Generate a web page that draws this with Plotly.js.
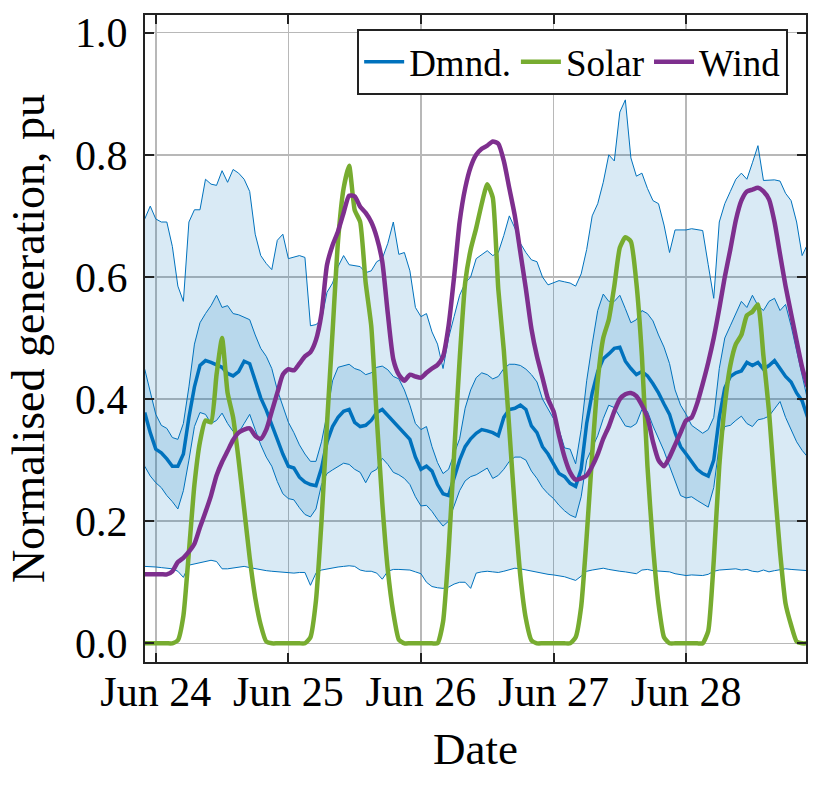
<!DOCTYPE html>
<html>
<head>
<meta charset="utf-8">
<script src="https://cdn.plot.ly/plotly-3.0.1.min.js"></script>
<style>html,body{margin:0;padding:0;background:#fff;}#chart{width:821px;height:792px;}</style>
</head>
<body>
<div id="chart"></div>
<script>
// Hourly samples starting 2023-06-23 22:00 (121 points)
const startTime = '2023-06-23 22:00';
const stepHours = 1;

const demandMax = [
 0.695,0.716,0.695,0.69,0.69,0.65,0.585,0.56,0.69,0.71,0.71,0.76,0.752,0.75,0.774,0.755,0.776,0.77,0.76,0.74,0.67,0.635,0.622,0.612,0.66,0.67,0.63,
 0.632,0.635,0.632,0.52,0.522,0.53,0.575,0.59,0.617,0.635,0.62,0.618,0.617,0.607,0.61,0.625,0.63,0.655,0.69,0.637,0.64,0.61,0.55,0.535,
 0.54,0.51,0.49,0.45,0.5,0.535,0.57,0.59,0.6,0.63,0.636,0.643,0.635,0.64,0.668,0.7,0.68,0.655,0.64,0.628,0.625,0.6,0.587,0.59,
 0.594,0.592,0.59,0.585,0.605,0.645,0.7,0.72,0.755,0.8,0.79,0.87,0.89,0.795,0.765,0.77,0.745,0.725,0.72,0.685,0.64,0.677,0.677,0.677,
 0.679,0.677,0.676,0.62,0.565,0.69,0.72,0.74,0.76,0.77,0.76,0.787,0.815,0.758,0.759,0.759,0.757,0.737,0.725,0.69,0.635,0.654
];
const demandQ3 = [
 0.449,0.41,0.375,0.357,0.352,0.337,0.334,0.36,0.42,0.49,0.525,0.54,0.553,0.57,0.55,0.553,0.54,0.538,0.534,0.53,0.505,0.483,0.47,0.45,0.415,0.39,0.362,
 0.345,0.325,0.31,0.298,0.298,0.33,0.375,0.43,0.452,0.455,0.457,0.45,0.447,0.44,0.443,0.452,0.454,0.448,0.437,0.433,0.415,0.39,0.36,0.35,
 0.355,0.322,0.296,0.278,0.285,0.31,0.335,0.385,0.415,0.435,0.443,0.44,0.433,0.437,0.45,0.457,0.457,0.455,0.449,0.44,0.428,0.4,0.385,0.368,
 0.35,0.32,0.318,0.294,0.35,0.43,0.49,0.545,0.572,0.56,0.56,0.57,0.548,0.525,0.53,0.545,0.54,0.528,0.505,0.485,0.458,0.415,0.39,0.375,
 0.357,0.35,0.344,0.35,0.37,0.45,0.5,0.52,0.54,0.56,0.55,0.57,0.553,0.545,0.56,0.565,0.545,0.555,0.52,0.478,0.44,0.398
];
const demandMedian = [
 0.378,0.345,0.318,0.312,0.302,0.29,0.29,0.31,0.37,0.42,0.455,0.463,0.46,0.456,0.452,0.442,0.438,0.445,0.462,0.458,0.43,0.402,0.382,0.356,0.334,0.31,0.29,
 0.287,0.272,0.264,0.26,0.258,0.287,0.33,0.355,0.37,0.38,0.383,0.362,0.355,0.357,0.365,0.378,0.383,0.373,0.362,0.352,0.343,0.334,0.305,0.285,
 0.29,0.282,0.26,0.245,0.242,0.27,0.3,0.322,0.335,0.344,0.35,0.348,0.345,0.34,0.37,0.383,0.385,0.39,0.383,0.356,0.345,0.322,0.31,0.294,
 0.278,0.273,0.262,0.257,0.285,0.36,0.41,0.445,0.466,0.474,0.483,0.485,0.462,0.45,0.44,0.445,0.438,0.425,0.41,0.392,0.375,0.345,0.322,0.31,
 0.297,0.285,0.278,0.274,0.3,0.37,0.418,0.437,0.443,0.446,0.46,0.455,0.46,0.449,0.455,0.463,0.45,0.437,0.428,0.41,0.397,0.37
];
const demandQ1 = [
 0.29,0.274,0.263,0.255,0.242,0.232,0.22,0.25,0.3,0.355,0.378,0.375,0.36,0.365,0.377,0.36,0.347,0.345,0.36,0.375,0.35,0.325,0.305,0.29,0.265,0.245,0.237,
 0.235,0.222,0.211,0.207,0.22,0.26,0.278,0.284,0.29,0.295,0.293,0.285,0.28,0.263,0.28,0.285,0.303,0.293,0.28,0.276,0.27,0.26,0.24,0.225,
 0.226,0.216,0.203,0.192,0.2,0.225,0.25,0.266,0.273,0.276,0.281,0.287,0.27,0.275,0.285,0.298,0.305,0.305,0.3,0.282,0.27,0.255,0.245,0.237,
 0.226,0.217,0.21,0.206,0.24,0.3,0.32,0.34,0.368,0.39,0.386,0.37,0.356,0.354,0.36,0.383,0.38,0.356,0.335,0.315,0.29,0.265,0.242,0.238,
 0.24,0.234,0.228,0.223,0.255,0.325,0.355,0.357,0.365,0.372,0.36,0.355,0.366,0.368,0.372,0.385,0.396,0.37,0.35,0.33,0.316,0.305
];
const demandMin = [
 0.126,0.126,0.125,0.124,0.123,0.122,0.118,0.108,0.128,0.13,0.133,0.134,0.136,0.134,0.122,0.122,0.123,0.124,0.126,0.124,0.122,0.121,0.119,0.118,0.117,0.116,0.115,
 0.115,0.116,0.116,0.095,0.115,0.12,0.122,0.124,0.125,0.126,0.127,0.126,0.12,0.118,0.118,0.115,0.105,0.118,0.121,0.121,0.12,0.12,0.117,0.114,
 0.1,0.093,0.091,0.09,0.092,0.097,0.1,0.1,0.09,0.115,0.117,0.118,0.117,0.116,0.118,0.12,0.123,0.122,0.12,0.118,0.117,0.115,0.113,0.112,
 0.111,0.109,0.106,0.103,0.11,0.118,0.12,0.122,0.123,0.121,0.119,0.118,0.117,0.115,0.114,0.12,0.121,0.119,0.118,0.117,0.117,0.114,0.112,0.111,
 0.112,0.112,0.111,0.113,0.118,0.12,0.121,0.122,0.122,0.12,0.121,0.118,0.117,0.12,0.117,0.119,0.121,0.122,0.121,0.12,0.119,0.119
];
const solar = [
 0,0,0,0,0,0,0.005,0.045,0.15,0.26,0.33,0.365,0.362,0.44,0.5,0.41,0.37,0.3,0.22,0.14,0.075,0.03,0.003,0,0,0,0,
 0,0,0,0.01,0.07,0.2,0.36,0.51,0.66,0.745,0.782,0.71,0.69,0.59,0.52,0.37,0.23,0.12,0.05,0.006,0,0,0,0,
 0,0,0,0.035,0.15,0.31,0.464,0.59,0.645,0.68,0.72,0.752,0.73,0.58,0.48,0.35,0.22,0.11,0.04,0.005,0,0,0,0,
 0,0,0,0.01,0.06,0.175,0.31,0.43,0.5,0.53,0.585,0.648,0.665,0.658,0.59,0.47,0.29,0.16,0.065,0.01,0,0,0,0,
 0,0,0,0.02,0.135,0.29,0.39,0.455,0.49,0.505,0.537,0.543,0.555,0.47,0.38,0.26,0.15,0.065,0.03,0.003,0,0
];
const wind = [
 0.113,0.113,0.113,0.113,0.113,0.118,0.133,0.14,0.15,0.163,0.19,0.215,0.242,0.275,0.297,0.315,0.333,0.345,0.35,0.352,0.34,0.335,0.35,0.38,0.41,0.44,0.449,
 0.447,0.458,0.47,0.477,0.497,0.54,0.62,0.652,0.675,0.705,0.733,0.732,0.715,0.705,0.69,0.665,0.625,0.54,0.465,0.44,0.43,0.44,0.437,0.435,
 0.443,0.45,0.456,0.47,0.52,0.6,0.69,0.745,0.78,0.8,0.81,0.815,0.822,0.818,0.79,0.745,0.7,0.64,0.58,0.515,0.47,0.435,0.4,0.38,
 0.34,0.305,0.28,0.268,0.27,0.275,0.29,0.31,0.335,0.355,0.38,0.4,0.408,0.41,0.405,0.39,0.37,0.33,0.3,0.29,0.305,0.325,0.345,0.365,
 0.37,0.393,0.425,0.46,0.5,0.548,0.6,0.645,0.693,0.725,0.74,0.743,0.746,0.74,0.727,0.69,0.637,0.585,0.54,0.495,0.452,0.42
];
const legendNames = ['Dmnd.', 'Solar', 'Wind'];
const yTickVals = [0, 0.2, 0.4, 0.6, 0.8, 1.0];

// time axis
function buildTimes(start, n, stepH) {
  const p = start.split(/[- :]/).map(Number);
  const t0 = Date.UTC(p[0], p[1]-1, p[2], p[3], p[4]);
  const pad = v => String(v).padStart(2, '0');
  const out = [];
  for (let i = 0; i < n; i++) {
    const d = new Date(t0 + i*stepH*3600000);
    out.push(d.getUTCFullYear()+'-'+pad(d.getUTCMonth()+1)+'-'+pad(d.getUTCDate())+' '+pad(d.getUTCHours())+':'+pad(d.getUTCMinutes()));
  }
  return out;
}
const t = buildTimes(startTime, demandMedian.length, stepHours);

const BLUE = '#0072BD', GREEN = '#77AC30', PURPLE = '#7E2F8E';
const thin = {color: BLUE, width: 1};

const traces = [
  {x: t, y: demandMin, type: 'scatter', mode: 'lines', line: thin, showlegend: false, hoverinfo: 'skip'},
  {x: t, y: demandMax, type: 'scatter', mode: 'lines', line: thin, fill: 'tonexty', fillcolor: 'rgba(0,114,189,0.15)', showlegend: false, hoverinfo: 'skip'},
  {x: t, y: demandQ1, type: 'scatter', mode: 'lines', line: thin, showlegend: false, hoverinfo: 'skip'},
  {x: t, y: demandQ3, type: 'scatter', mode: 'lines', line: thin, fill: 'tonexty', fillcolor: 'rgba(0,114,189,0.15)', showlegend: false, hoverinfo: 'skip'},
  {x: t, y: demandMedian, type: 'scatter', mode: 'lines', name: legendNames[0], line: {color: BLUE, width: 3.5}},
  {x: t, y: solar, type: 'scatter', mode: 'lines', name: legendNames[1], line: {color: GREEN, width: 4.5, shape: 'spline', smoothing: 0.5}},
  {x: t, y: wind, type: 'scatter', mode: 'lines', name: legendNames[2], line: {color: PURPLE, width: 4.5, shape: 'spline', smoothing: 0.6}}
];

const FONT = "'Liberation Serif', 'Times New Roman', Times, serif";
const axisCommon = {
  showline: true, linecolor: '#222', linewidth: 2, mirror: 'ticks',
  ticks: 'inside', ticklen: 9, tickwidth: 2, tickcolor: '#222',
  showgrid: true, gridcolor: '#b8b8b8', gridwidth: 1.5, zeroline: false,
  tickfont: {family: FONT, size: 42, color: '#000'}
};

const layout = {
  width: 821, height: 792,
  margin: {l: 145, r: 15, t: 15, b: 130},
  paper_bgcolor: '#fff', plot_bgcolor: '#fff',
  font: {family: FONT, color: '#000'},
  showlegend: true,
  legend: {
    orientation: 'h', x: 0.973, xanchor: 'right', y: 0.978, yanchor: 'top',
    traceorder: 'normal',
    bgcolor: '#fff', bordercolor: '#222', borderwidth: 2,
    font: {family: FONT, size: 37, color: '#000'},
    itemwidth: 40, tracegroupgap: 0
  },
  xaxis: Object.assign({}, axisCommon, {
    type: 'date',
    range: ['2023-06-23 22:03', '2023-06-28 21:42'],
    tick0: '2023-06-24', dtick: 86400000, tickformat: '%b %d',
    ticklabelstandoff: -8,
    title: {text: 'Date', font: {family: FONT, size: 45, color: '#000'}, standoff: 18}
  }),
  yaxis: Object.assign({}, axisCommon, {
    range: [-0.0306, 1.029],
    tickvals: yTickVals, tickformat: '.1f',
    ticklabelstandoff: 7,
    title: {text: 'Normalised generation, pu', font: {family: FONT, size: 46, color: '#000'}, standoff: 16}
  })
};

Plotly.newPlot('chart', traces, layout, {staticPlot: true, displayModeBar: false});
</script>
</body>
</html>
